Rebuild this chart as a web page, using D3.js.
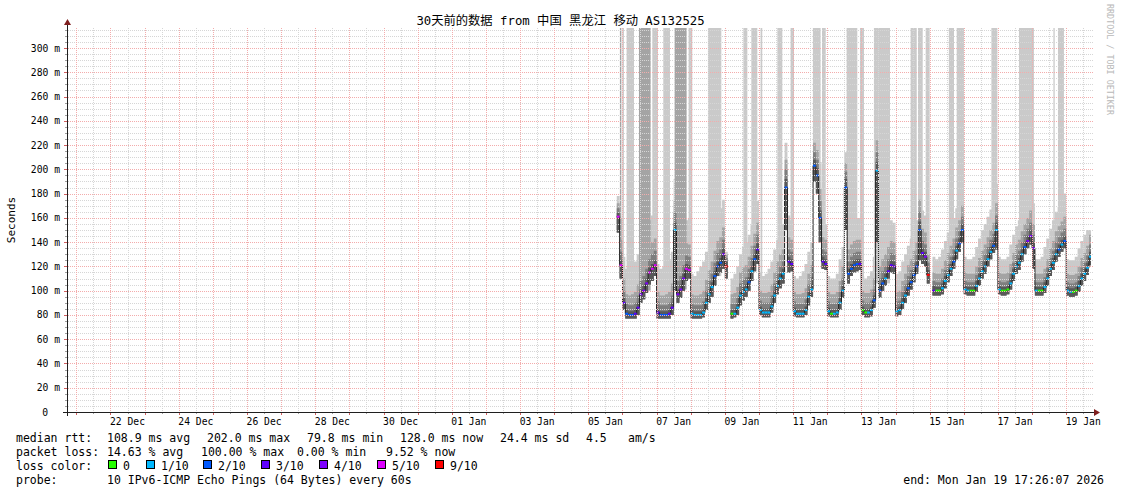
<!DOCTYPE html>
<html><head><meta charset="utf-8">
<script src="https://cdn.jsdelivr.net/npm/d3@7"></script>
<style>
body{margin:0;background:#fff}
svg{display:block}
text{font-family:"DejaVu Sans Mono","Noto Sans CJK SC",monospace;fill:#000}
</style>
</head><body>
<svg id="c" width="1121" height="494"></svg>
<script>
// ---------------- DATA ----------------
const titleText = "30天前的数据 from 中国 黑龙江 移动 AS132525";
const graphStart = "2025-12-20T17:26:07Z";
const graphEnd   = "2026-01-19T17:26:07Z";
const dataStart  = "2026-01-05T20:00:00Z";   // first 2-hour bin
const binHours   = 2;

// median RTT (ms) per 2h bin
const median = [
  161, 121,                                                // Jan 05 20h,22h
  90, 81, 80, 80, 81, 86, 97, 100, 106, 115, 118, 121,     // Jan 06
  82, 80, 80, 80, 81, 86, 150, 97, 101, 110, 118, 117,     // Jan 07
  81, 80, 80, 80, 82, 90, 97, 103, 112, 120, 123, 130,     // Jan 08
  120, null, 81, 81, 86, 96, 99, 101, 107, 116, 126, 134,  // Jan 09
  84, 82, 82, 82, 87, 96, 104, 110, 114, 185, 124, 122,    // Jan 10
  83, 81, 81, 81, 84, 95, 101, 203, 195, 160, 124, 122,    // Jan 11
  83, 81, 81, 82, 90, 100, 185, 114, 118, 121, 122, 122,   // Jan 12
  84, 82, 82, 84, 92, 199, 100, 106, 110, 116, 121, 120,   // Jan 13
  83, 84, 90, 96, 102, 107, 113, 120, 150, 131, 128, 113,  // Jan 14
  null, 100, 100, 100, 102, 108, 113, 118, 124, 133, 139, 150, // Jan 15
  101, 100, 100, 100, 104, 110, 116, 120, 126, 132, 137, 150,  // Jan 16
  101, 100, 100, 101, 106, 114, 120, 123, 130, 136, 141, 145,  // Jan 17
  135, 100, 100, 100, 103, 110, 118, 123, 130, 134, 138, 141,  // Jan 18
  100, 99, 99, 100, 104, 110, 114, 119, 128                    // Jan 19
];
// lost pings (of 10) per bin
const loss = [
  5, 5,
  3, 2, 2, 2, 3, 3, 4, 4, 4, 5, 5, 5,
  3, 2, 2, 2, 3, 3, 1, 4, 4, 4, 5, 5,
  1, 1, 1, 1, 1, 1, 1, 1, 2, 2, 2, 4,
  9, null, 0, 1, 1, 1, 1, 1, 2, 1, 2, 3,
  1, 1, 1, 1, 1, 1, 1, 1, 1, 2, 3, 3,
  1, 1, 1, 1, 1, 1, 1, 2, 2, 2, 3, 3,
  1, 0, 1, 1, 1, 1, 2, 2, 2, 2, 2, 3,
  0, 0, 1, 1, 2, 1, 2, 2, 1, 3, 3, 3,
  1, 1, 1, 1, 2, 2, 2, 2, 2, 3, 4, 9,
  null, 3, 0, 0, 1, 1, 1, 1, 2, 1, 2, 2,
  1, 1, 0, 0, 1, 1, 1, 1, 1, 1, 2, 1,
  1, 0, 0, 0, 1, 1, 1, 1, 1, 2, 4, 4,
  4, 1, 0, 0, 1, 1, 1, 1, 1, 2, 1, 2,
  1, 1, 0, 0, 1, 1, 1, 1, 1
];
// lowest ping per bin
const pingLow = [
  148, 110,
  84, 77, 77, 77, 77, 80, 90, 93, 98, 105, 108, 112,
  77, 77, 77, 77, 77, 80, 100, 90, 94, 100, 108, 110,
  77, 77, 77, 77, 78, 84, 90, 95, 104, 112, 115, 118,
  110, null, 77, 78, 80, 88, 92, 95, 100, 108, 116, 122,
  80, 78, 78, 78, 82, 90, 97, 102, 106, 150, 115, 116,
  79, 78, 78, 78, 80, 88, 95, 190, 180, 140, 118, 117,
  79, 78, 78, 78, 84, 94, 150, 106, 112, 115, 116, 117,
  80, 78, 78, 79, 86, 140, 94, 100, 104, 110, 115, 114,
  79, 80, 85, 90, 96, 101, 107, 114, 125, 122, 120, 106,
  null, 96, 96, 96, 97, 102, 107, 112, 118, 126, 132, 140,
  97, 96, 96, 96, 99, 104, 110, 114, 120, 126, 131, 134,
  97, 96, 96, 97, 101, 108, 114, 117, 124, 130, 135, 138,
  118, 96, 96, 96, 98, 104, 112, 117, 124, 128, 132, 135,
  96, 95, 95, 96, 99, 104, 108, 113, 121
];
// 7th ping (top of dark smoke)
const ping7 = [
  164, 125,
  94, 84, 83, 83, 84, 90, 101, 104, 110, 119, 122, 125,
  85, 83, 83, 83, 84, 90, 156, 101, 105, 114, 122, 121,
  84, 83, 83, 83, 85, 94, 101, 107, 116, 124, 127, 135,
  124, null, 84, 84, 89, 100, 103, 105, 111, 120, 130, 139,
  87, 85, 85, 85, 90, 100, 108, 114, 118, 192, 128, 126,
  86, 84, 84, 84, 87, 99, 105, 208, 201, 166, 128, 126,
  86, 84, 84, 85, 94, 104, 192, 118, 122, 125, 126, 126,
  87, 85, 85, 87, 96, 206, 104, 110, 114, 120, 125, 124,
  86, 87, 94, 100, 106, 111, 117, 124, 157, 135, 132, 117,
  null, 104, 103, 103, 106, 112, 117, 122, 128, 137, 143, 155,
  104, 103, 103, 103, 108, 114, 120, 124, 130, 136, 141, 156,
  104, 103, 103, 104, 110, 118, 124, 127, 134, 140, 145, 150,
  140, 103, 103, 103, 107, 114, 122, 127, 134, 138, 142, 145,
  103, 102, 102, 103, 108, 114, 118, 123, 132
];
// 8th ping
const ping8 = [
  168, 132,
  100, 89, 88, 88, 90, 96, 108, 112, 118, 126, 130, 133,
  91, 88, 88, 88, 90, 96, 164, 108, 112, 121, 129, 128,
  89, 88, 88, 88, 91, 100, 108, 114, 123, 131, 134, 142,
  127, null, 89, 89, 94, 106, 109, 111, 118, 127, 137, 146,
  92, 90, 90, 90, 96, 106, 114, 120, 124, 200, 134, 132,
  91, 89, 89, 89, 93, 105, 111, 214, 208, 174, 134, 132,
  91, 89, 89, 90, 99, 110, 198, 124, 128, 131, 132, 132,
  92, 90, 90, 92, 101, 214, 110, 116, 120, 126, 131, 130,
  91, 92, 99, 105, 112, 117, 123, 130, 165, 141, 138, 123,
  null, 108, 107, 107, 110, 117, 122, 128, 134, 143, 149, 161,
  108, 107, 107, 107, 113, 119, 125, 130, 136, 142, 147, 162,
  108, 107, 107, 108, 114, 123, 130, 133, 140, 146, 151, 156,
  146, 107, 107, 107, 111, 119, 127, 133, 140, 144, 148, 151,
  107, 106, 106, 107, 112, 119, 123, 129, 138
];
// 9th ping
const ping9 = [
  172, 142,
  110, 97, 96, 97, 99, 105, 117, 122, 128, 136, 140, 143,
  99, 96, 96, 97, 99, 106, 174, 118, 122, 131, 139, 138,
  97, 96, 96, 97, 100, 109, 117, 124, 133, 141, 144, 152,
  130, null, 97, 98, 103, 115, 119, 121, 128, 137, 147, 156,
  100, 98, 98, 99, 105, 115, 124, 130, 134, 208, 144, 142,
  99, 97, 97, 98, 102, 114, 121, 222, 216, 184, 144, 142,
  99, 97, 97, 99, 108, 120, 205, 134, 138, 141, 142, 142,
  100, 98, 98, 101, 110, 224, 120, 126, 130, 136, 141, 140,
  99, 100, 108, 114, 121, 126, 133, 140, 175, 151, 148, 130,
  null, 115, 114, 114, 118, 125, 131, 137, 143, 152, 158, 170,
  115, 114, 114, 114, 120, 127, 133, 138, 144, 150, 156, 172,
  115, 114, 114, 115, 122, 131, 138, 142, 149, 155, 160, 166,
  155, 114, 114, 114, 118, 126, 135, 141, 149, 153, 157, 161,
  114, 113, 113, 114, 120, 127, 131, 137, 146
];
// highest ping (when not off the chart)
const ping10 = [
  178, 160,
  128, 118, 120, 122, 124, 130, 140, 146, 152, 158, 162, 166,
  122, 118, 120, 122, 126, 132, 192, 142, 146, 152, 158, 160,
  114, 112, 116, 120, 124, 132, 140, 148, 156, 163, 168, 175,
  132, null, 110, 114, 120, 130, 136, 140, 146, 154, 164, 174,
  115, 112, 114, 118, 124, 134, 142, 150, 155, 222, 162, 158,
  112, 110, 112, 116, 122, 132, 140, 234, 230, 206, 160, 155,
  112, 110, 110, 114, 126, 136, 214, 152, 156, 158, 160, 160,
  112, 110, 112, 116, 128, 240, 138, 146, 150, 155, 158, 156,
  114, 116, 124, 130, 137, 143, 150, 158, 205, 166, 162, 136,
  null, 128, 126, 128, 134, 141, 148, 154, 160, 168, 174, 188,
  128, 126, 126, 128, 136, 143, 150, 155, 161, 167, 173, 188,
  128, 126, 126, 128, 138, 146, 153, 158, 165, 171, 178, 190,
  172, 126, 126, 128, 136, 143, 151, 158, 165, 169, 173, 180,
  126, 125, 125, 128, 135, 141, 146, 150, 150
];
// periods where pings went off the top of the chart (hours after 2026-01-05 00:00)
const spikeRef   = "2026-01-05T00:00:00Z";
const spikeFrom  = [22.2, 23.9, 26.9, 35.6, 45.0, 52.7, 60.7, 70.5, 84.1, 109.0, 114.6, 121.1, 132.9, 142.2, 157.9, 164.3, 181.6, 191.0, 200.8, 226.6, 231.8, 237.2, 253.5, 259.0, 283.4, 302.8, 327.0, 330.2];
const spikeTo    = [23.2, 25.0, 32.1, 43.8, 48.9, 57.4, 69.1, 73.1, 93.5, 111.8, 118.8, 122.3, 136.4, 144.6, 163.3, 166.9, 189.1, 193.8, 212.1, 230.9, 235.1, 240.0, 257.1, 264.1, 287.6, 313.3, 327.9, 334.4];
const spikeLevel = [2, 1, 1, 2, 1, 1, 2, 1, 1, 1, 1, 1, 1, 1, 1, 1, 1, 1, 1, 1, 1, 1, 1, 1, 1, 1, 1, 1];

const lossLevels = [0, 1, 2, 3, 4, 5, 9];
const lossLabels = ["0", "1/10", "2/10", "3/10", "4/10", "5/10", "9/10"];
const lossColors = ["#26ff00", "#00b8ff", "#0059ff", "#5e00ff", "#7e00ff", "#dd00ff", "#ff0000"];

const yTickValues = [0, 20, 40, 60, 80, 100, 120, 140, 160, 180, 200, 220, 240, 260, 280, 300];
const xLabelDays = ["2025-12-22", "2025-12-24", "2025-12-26", "2025-12-28", "2025-12-30", "2026-01-01", "2026-01-03", "2026-01-05", "2026-01-07", "2026-01-09", "2026-01-11", "2026-01-13", "2026-01-15", "2026-01-17", "2026-01-19"];

const statRtt  = ["108.9 ms avg", "202.0 ms max", "79.8 ms min", "128.0 ms now", "24.4 ms sd", "4.5", "am/s"];
const statLoss = ["14.63 % avg", "100.00 % max", "0.00 % min", "9.52 % now"];
const probeText = "10 IPv6-ICMP Echo Pings (64 Bytes) every 60s";
const endText = "end: Mon Jan 19 17:26:07 2026";

// ---------------- CHART ----------------
const svg = d3.select("#c");
const X0 = 67, X1 = 1091, Y0 = 412, Y1 = 28;
const yMax = 316.5;
const x = d3.scaleUtc().domain([new Date(graphStart), new Date(graphEnd)]).range([X0, X1]);
const y = d3.scaleLinear().domain([0, yMax]).range([Y0, Y1]);
const HOUR = 3600e3;
const startMs = new Date(dataStart).getTime();

const bins = median.map((m, i) => ({
  t0: new Date(startMs + i * binHours * HOUR),
  t1: new Date(startMs + (i + 1) * binHours * HOUR),
  m, loss: loss[i], lo: pingLow[i], p7: ping7[i], p8: ping8[i], p9: ping9[i], p10: ping10[i]
}));
const pts = [];
bins.forEach((b, i) => {
  if (b.m == null) { pts.push({ gap: true }); return; }
  pts.push(Object.assign({ t: b.t0 }, b));
  const nb = bins[i + 1];
  if (!nb || nb.m == null) pts.push(Object.assign({ t: b.t1 }, b));
});

svg.append("defs").append("clipPath").attr("id", "plot")
  .append("rect").attr("x", X0).attr("y", Y1).attr("width", X1 - X0).attr("height", Y0 - Y1);
const g = svg.append("g").attr("clip-path", "url(#plot)");

function band(key, color) {
  const a = d3.area().defined(d => !d.gap).curve(d3.curveStepAfter)
    .x(d => x(d.t)).y0(d => y(d.lo)).y1(d => y(d[key]));
  g.append("path").attr("d", a(pts)).attr("fill", color);
}
band("p10", "#cacaca");

// off-chart pings
const refMs = new Date(spikeRef).getTime();
function medianAt(ms) {
  let i = Math.floor((ms - startMs) / (binHours * HOUR));
  i = Math.max(0, Math.min(median.length - 1, i));
  while (i > 0 && median[i] == null) i--;
  return median[i] == null ? 120 : median[i];
}
spikeFrom.forEach((h, i) => {
  const a = refMs + h * HOUR, b = refMs + spikeTo[i] * HOUR;
  const base = medianAt((a + b) / 2);
  g.append("rect")
    .attr("x", x(new Date(a))).attr("width", x(new Date(b)) - x(new Date(a)))
    .attr("y", y(yMax)).attr("height", y(base) - y(yMax))
    .attr("fill", spikeLevel[i] === 2 ? "#a4a4a4" : "#cacaca");
});
band("p9", "#a4a4a4");
band("p8", "#7e7e7e");
band("p7", "#585858");

// ---- grid (drawn over the smoke, like rrdtool) ----
const grid = svg.append("g");
const minorCol = "#d6d6d6", majorCol = "#f3acac";
d3.range(5, 316, 5).forEach(v => {
  const yy = Math.round(y(v)) + 0.5;
  const major = v % 20 === 0;
  grid.append("line").attr("x1", X0 - 1).attr("x2", X1 + 2).attr("y1", yy).attr("y2", yy)
    .attr("stroke", major ? majorCol : minorCol).attr("stroke-dasharray", "1,1");
  grid.append("line").attr("x1", X0 - (major ? 3 : 2)).attr("x2", X0).attr("y1", yy).attr("y2", yy)
    .attr("stroke", major ? "#d06060" : "#a0a0a0");
});
d3.utcHour.every(12).range(x.domain()[0], x.domain()[1]).forEach(t => {
  const xx = Math.round(x(t)) + 0.5;
  const major = t.getUTCHours() === 0;
  grid.append("line").attr("x1", xx).attr("x2", xx).attr("y1", Y1).attr("y2", Y0)
    .attr("stroke", major ? majorCol : minorCol).attr("stroke-dasharray", "1,1");
  grid.append("line").attr("x1", xx).attr("x2", xx).attr("y1", Y0).attr("y2", Y0 + (major ? 3 : 2))
    .attr("stroke", major ? "#d06060" : "#a0a0a0");
});

// ---- median line + loss colour marks ----
const ml = d3.line().defined(d => !d.gap).curve(d3.curveStepAfter).x(d => x(d.t)).y(d => y(d.m));
g.append("path").attr("d", ml(pts)).attr("fill", "none").attr("stroke", "#202020").attr("stroke-width", 1);
bins.forEach(b => {
  if (b.m == null) return;
  const c = lossColors[lossLevels.indexOf(b.loss)];
  g.append("rect").attr("x", x(b.t0)).attr("width", x(b.t1) - x(b.t0))
    .attr("y", y(b.m) - 1).attr("height", 2).attr("fill", c);
});

// ---- axes ----
const ax = svg.append("g");
ax.append("line").attr("x1", X0 - 4).attr("x2", X1 + 4).attr("y1", Y0 + 0.5).attr("y2", Y0 + 0.5).attr("stroke", "#1f1f1f");
ax.append("path").attr("d", `M${X1 + 3},${Y0 - 3}L${X1 + 9},${Y0 + 0.5}L${X1 + 3},${Y0 + 4}Z`).attr("fill", "#7f1f1f");
ax.append("line").attr("x1", X0 + 0.5).attr("x2", X0 + 0.5).attr("y1", Y0 + 4).attr("y2", Y1 - 4).attr("stroke", "#1f1f1f");
ax.append("path").attr("d", `M${X0 - 3},${Y1 - 3}L${X0 + 0.5},${Y1 - 9}L${X0 + 4},${Y1 - 3}Z`).attr("fill", "#7f1f1f");

yTickValues.forEach(v => {
  ax.append("text").attr("x", v === 0 ? 48 : 60).attr("y", y(v) + 3.5)
    .attr("text-anchor", "end").attr("font-size", "9.7px")
    .text(v === 0 ? "0" : v + " m");
});
const fmt = d3.utcFormat("%d %b");
xLabelDays.forEach(s => {
  const t = new Date(s + "T12:00:00Z");
  ax.append("text").attr("x", x(t)).attr("y", 425).attr("text-anchor", "middle")
    .attr("font-size", "9.7px").text(fmt(t));
});

// ---- titles ----
svg.append("text").attr("x", 560.5).attr("y", 25).attr("text-anchor", "middle")
  .attr("font-size", "12.3px").text(titleText);
svg.append("text").attr("transform", "translate(15,220) rotate(-90)").attr("text-anchor", "middle")
  .attr("font-size", "11px").text("Seconds");
svg.append("text").attr("transform", "translate(1107,4) rotate(90)").attr("text-anchor", "start")
  .attr("font-size", "8.4px").style("fill", "#b8b8b8").text("RRDTOOL / TOBI OETIKER");

// ---- legend ----
const lg = svg.append("g").attr("font-size", "11.5px");
const rowY = [442, 456, 470, 484];
lg.append("text").attr("x", 16).attr("y", rowY[0]).text("median rtt:");
[107, 207, 307, 400, 500, 586, 628].forEach((xx, i) => lg.append("text").attr("x", xx).attr("y", rowY[0]).text(statRtt[i]));
lg.append("text").attr("x", 16).attr("y", rowY[1]).text("packet loss:");
[107, 201, 297, 386].forEach((xx, i) => lg.append("text").attr("x", xx).attr("y", rowY[1]).text(statLoss[i]));
lg.append("text").attr("x", 16).attr("y", rowY[2]).text("loss color:");
const boxX = [108, 146, 203, 261, 319, 377, 435];
lossLabels.forEach((l, i) => {
  lg.append("rect").attr("x", boxX[i] + 0.5).attr("y", rowY[2] - 9.5).attr("width", 8).attr("height", 8)
    .attr("fill", lossColors[i]).attr("stroke", "#000");
  lg.append("text").attr("x", boxX[i] + 15).attr("y", rowY[2]).text(l);
});
lg.append("text").attr("x", 16).attr("y", rowY[3]).text("probe:");
lg.append("text").attr("x", 107).attr("y", rowY[3]).text(probeText);
lg.append("text").attr("x", 1104).attr("y", rowY[3]).attr("text-anchor", "end").text(endText);
</script>
</body></html>
